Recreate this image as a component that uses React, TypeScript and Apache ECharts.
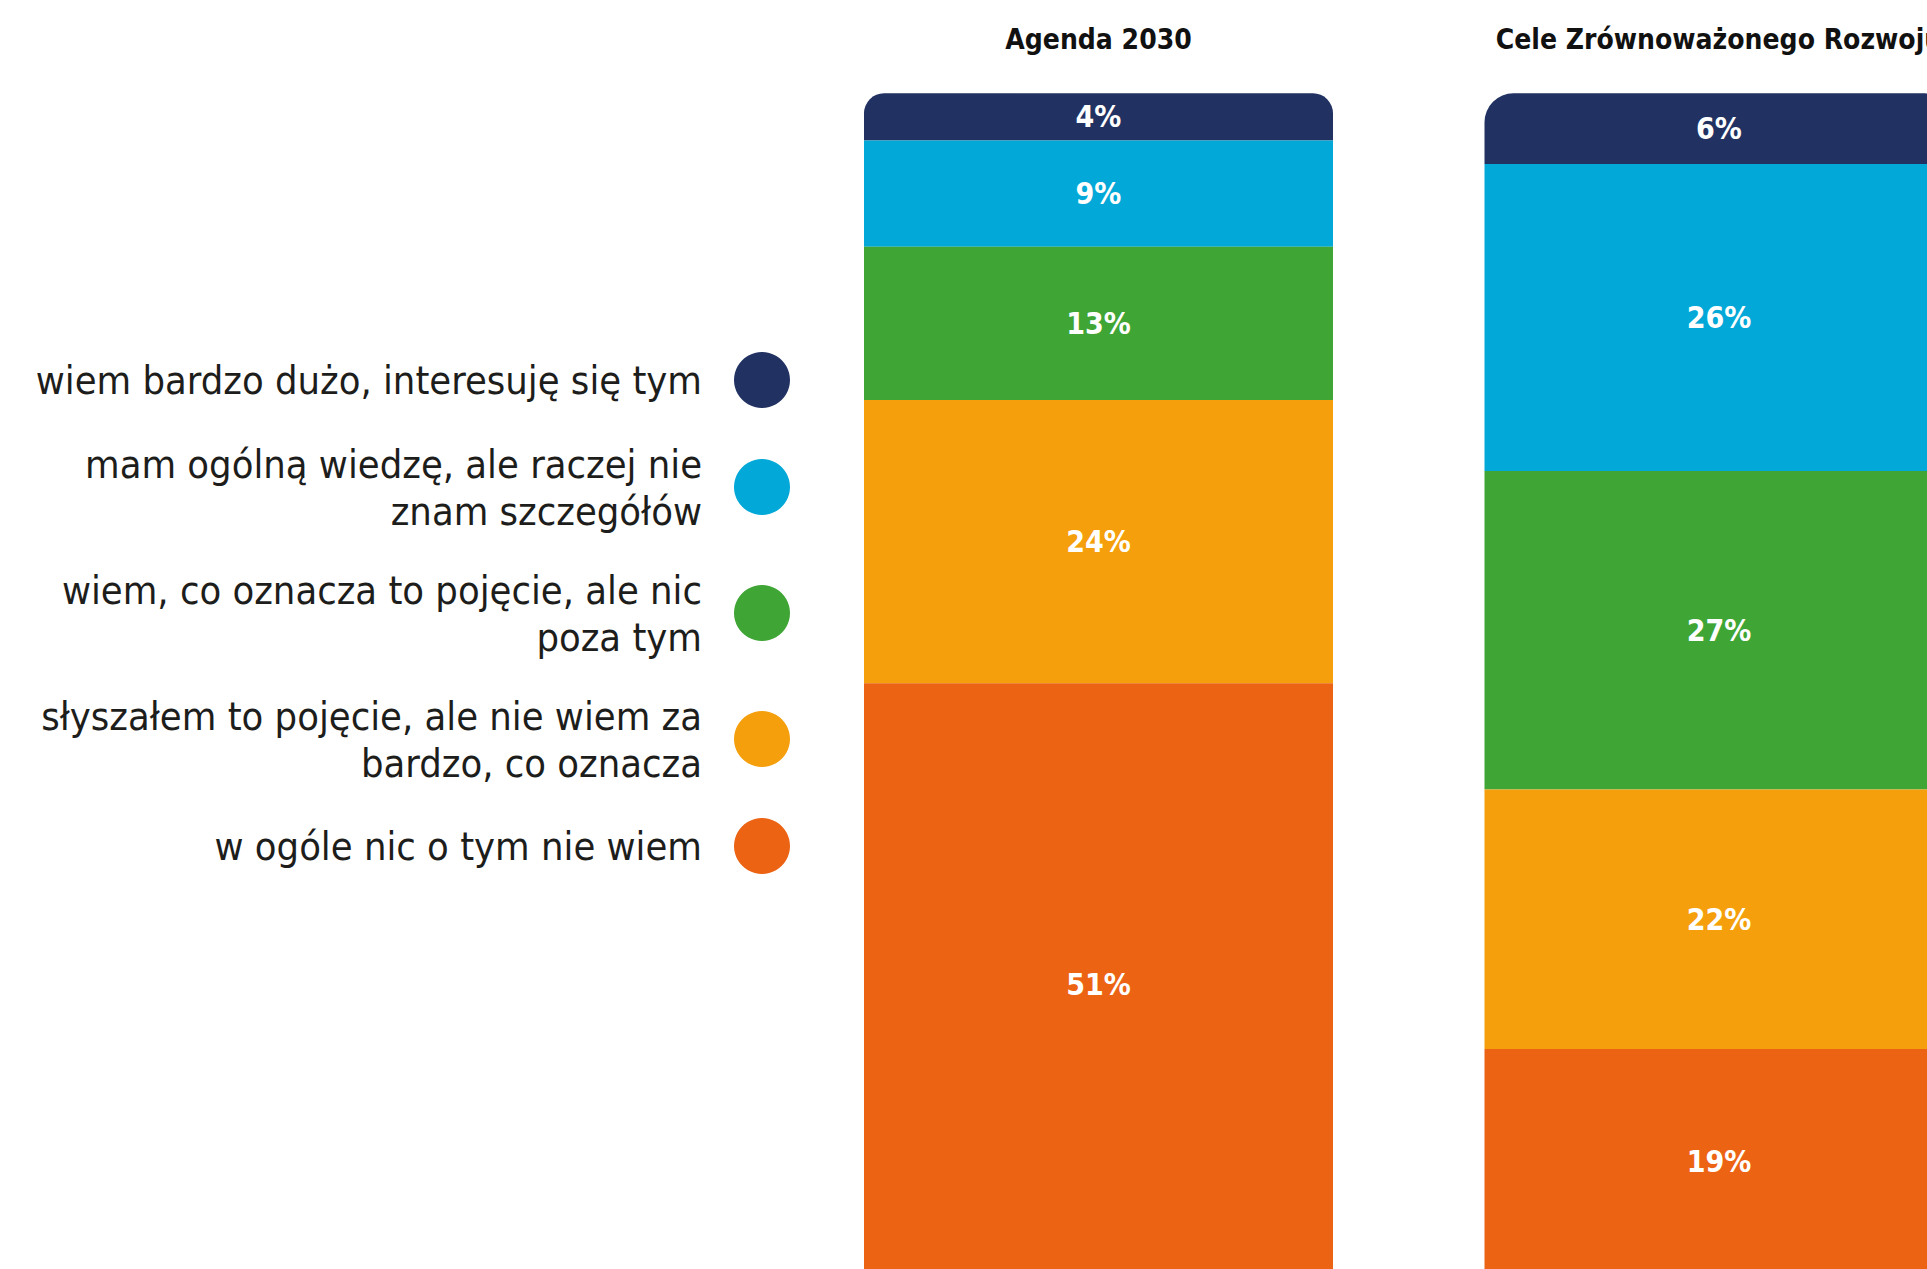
import React, { useEffect, useRef } from "react";
import * as echarts from "echarts";

// ---- data ----
const categories = ["Agenda 2030", "Cele Zrównoważonego Rozwoju"];
const seriesNames = [
  "wiem bardzo dużo, interesuję się tym",
  "mam ogólną wiedzę, ale raczej nie znam szczegółów",
  "wiem, co oznacza to pojęcie, ale nic poza tym",
  "słyszałem to pojęcie, ale nie wiem za bardzo, co oznacza",
  "w ogóle nic o tym nie wiem",
];
const legendLines = [
  "wiem bardzo dużo, interesuję się tym",
  "mam ogólną wiedzę, ale raczej nie\nznam szczegółów",
  "wiem, co oznacza to pojęcie, ale nic\npoza tym",
  "słyszałem to pojęcie, ale nie wiem za\nbardzo, co oznacza",
  "w ogóle nic o tym nie wiem",
];
const wiemBardzoDuzo = [4, 6];
const ogolnaWiedza = [9, 26];
const wiemCoOznacza = [13, 27];
const slyszalem = [24, 22];
const nicNieWiem = [51, 19];
const seriesValues = [wiemBardzoDuzo, ogolnaWiedza, wiemCoOznacza, slyszalem, nicNieWiem];
const colors = ["#213262", "#02A8D8", "#3FA535", "#F49F0B", "#EC6313"];
const topRadius = [20, 29];

const FONT = "'Liberation Sans Narrow', 'DejaVu Sans Condensed', 'Noto Sans', sans-serif";
const W = 2100;
const H = 1400;

export default function App() {
  const ref = useRef<HTMLDivElement>(null);
  useEffect(() => {
    if (!ref.current) return;
    const chart = echarts.init(ref.current, undefined, { renderer: "svg" });
    const series = seriesNames.map((name, i) => ({
      name,
      type: "bar",
      stack: "total",
      barWidth: 469,
      itemStyle: { color: colors[i] },
      label: {
        show: true,
        position: "inside",
        color: "#fff",
        fontWeight: "bold",
        fontSize: 30,
        fontFamily: FONT,
        formatter: "{c}%",
      },
      data: seriesValues[i].map((v, j) =>
        i === 0
          ? { value: v, itemStyle: { borderRadius: [topRadius[j], topRadius[j], 0, 0] } }
          : v
      ),
    }));
    chart.setOption({
      animation: false,
      backgroundColor: "#fff",
      textStyle: { fontFamily: FONT },
      grid: { left: 788.25, right: W - 2029.25, top: 93.3, height: 105 * 11.8 },
      xAxis: {
        type: "category",
        data: categories,
        position: "top",
        axisLine: { show: false },
        axisTick: { show: false },
        axisLabel: {
          interval: 0,
          fontWeight: "bold",
          fontSize: 28,
          color: "#111",
          fontFamily: FONT,
          margin: 40,
        },
      },
      yAxis: { type: "value", inverse: true, min: 0, max: 105, show: false },
      legend: {
        orient: "vertical",
        right: W - 790,
        top: 352,
        align: "right",
        icon: "circle",
        itemWidth: 56,
        itemHeight: 56,
        itemGap: 32,
        padding: 0,
        selectedMode: false,
        data: seriesNames,
        formatter: (name: string) => legendLines[seriesNames.indexOf(name)],
        textStyle: {
          fontSize: 39.5,
          lineHeight: 47,
          color: "#1d1d1b",
          fontFamily: FONT,
          padding: [0, 27, 0, 0],
        },
      },
      series,
    });
    return () => chart.dispose();
  }, []);
  return (
    <div
      style={{
        position: "fixed",
        left: 0,
        top: 0,
        width: "100vw",
        height: "100vh",
        overflow: "hidden",
        background: "#fff",
      }}
    >
      <div ref={ref} style={{ width: W, height: H }} />
    </div>
  );
}
